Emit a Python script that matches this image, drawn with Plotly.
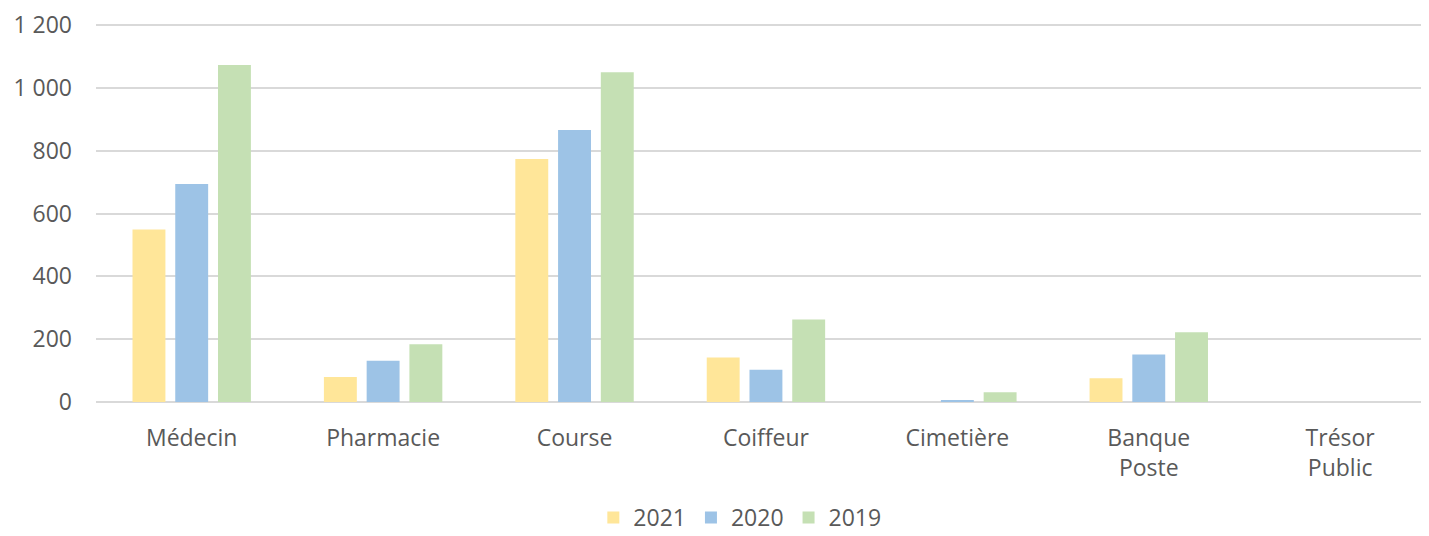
import plotly.graph_objects as go

categories = ["Médecin", "Pharmacie", "Course", "Coiffeur", "Cimetière", "Banque<br>Poste", "Trésor<br>Public"]
v2021 = [549, 80, 774, 142, 0, 76, 0]
v2020 = [694, 131, 866, 103, 5, 151, 0]
v2019 = [1073, 184, 1050, 263, 31, 222, 0]
y_ticks = [0, 200, 400, 600, 800, 1000, 1200]
y_labels = ["0", "200", "400", "600", "800", "1 000", "1 200"]

text_col = "#595959"
font_family = "Open Sans"
fsize = 23

fig = go.Figure()
for name, vals, col in [("2021", v2021, "#FFE699"),
                        ("2020", v2020, "#9DC3E6"),
                        ("2019", v2019, "#C5E0B4")]:
    fig.add_trace(go.Bar(x=categories, y=vals, name=name,
                         marker=dict(color=col, line=dict(width=0))))

# the page body keeps its default 8px margin, so the figure is 8px smaller
fig.update_layout(
    width=1421, height=528,
    margin=dict(l=88, r=0, t=14, b=134, autoexpand=False),
    paper_bgcolor="white", plot_bgcolor="white",
    barmode="group", bargap=0.33, bargroupgap=0.23,
    font=dict(family=font_family, size=fsize, color=text_col),
    legend=dict(orientation="h", x=0.483, xanchor="center",
                yref="container", y=0.035, yanchor="middle",
                font=dict(size=fsize, color=text_col), itemwidth=30, traceorder="normal"),
    showlegend=True,
)
fig.update_xaxes(range=[-0.5, 6.464], showgrid=False, showline=False, ticks="",
                 ticklabelstandoff=20, tickfont=dict(size=fsize, color=text_col))
fig.update_yaxes(range=[0, 1210], tickvals=y_ticks, ticktext=y_labels,
                 showgrid=True, gridcolor="#d9d9d9", gridwidth=1.5,
                 zeroline=True, zerolinecolor="#d9d9d9", zerolinewidth=1.5,
                 showline=False, ticks="", ticklabelstandoff=23,
                 tickfont=dict(size=fsize, color=text_col))

fig.write_html("out.html")
